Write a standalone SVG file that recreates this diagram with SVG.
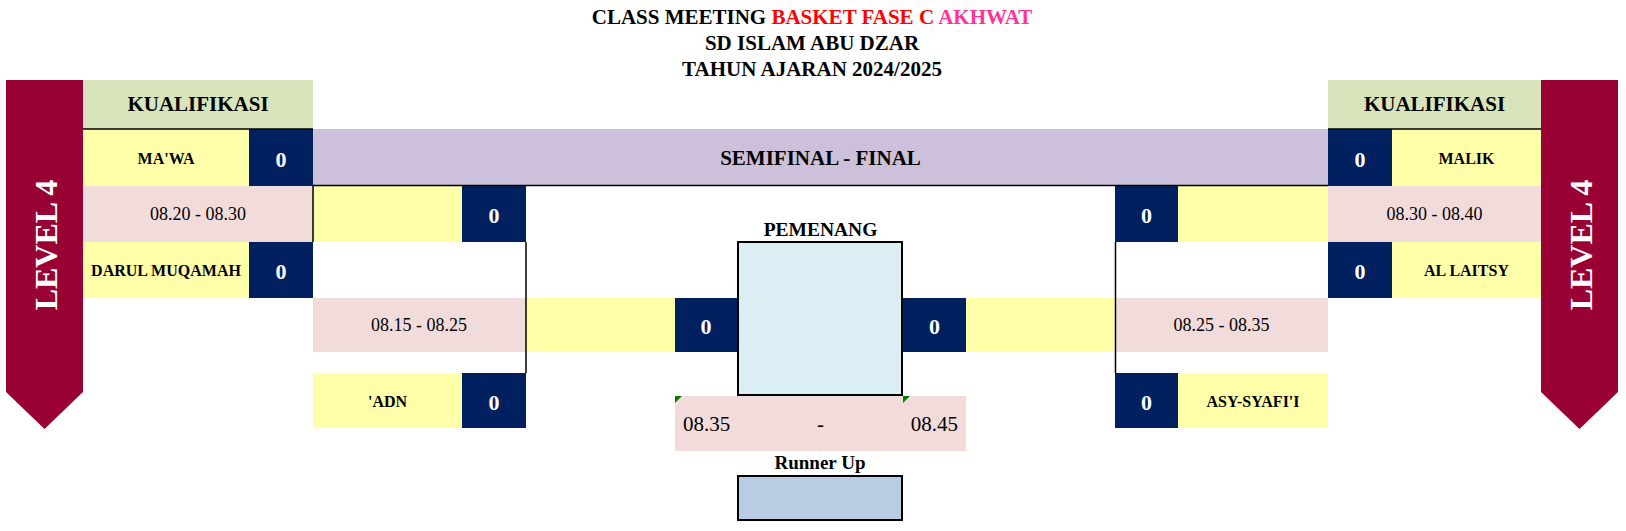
<svg xmlns="http://www.w3.org/2000/svg" width="1626" height="531" viewBox="0 0 1626 531">
<style>
text{font-family:"Liberation Serif","Times New Roman",serif;}
.t{font-size:21px;font-weight:bold;text-anchor:middle;fill:#000;}
.nm{font-size:16px;font-weight:bold;text-anchor:middle;fill:#000;}
.sc{font-size:22px;font-weight:bold;text-anchor:middle;fill:#fff;}
.tm{font-size:18px;text-anchor:middle;fill:#000;}
.tm2{font-size:21px;fill:#000;}
.lv{font-size:32px;font-weight:bold;text-anchor:middle;fill:#fff;}
.y{fill:#FFFFAA;}
.n{fill:#002060;}
.p{fill:#F2DCDB;}
.g{fill:#D8E4BC;}
.ln{stroke:#000;stroke-width:1.5;fill:none;}
.bx{stroke:#000;stroke-width:2;}
</style>
<rect width="1626" height="531" fill="#fff"/>
<g id="title">
<text class="t" x="812" y="24">CLASS MEETING <tspan fill="#FF0000">BASKET FASE C</tspan><tspan fill="#FF3399"> AKHWAT</tspan></text>
<text class="t" x="812" y="50">SD ISLAM ABU DZAR</text>
<text class="t" x="812" y="76">TAHUN AJARAN 2024/2025</text>
</g>
<g id="banner-left">
<polygon points="6,80 83,80 83,392 44.5,429 6,392" fill="#990033"/>
<text class="lv" transform="translate(57,245) rotate(-90)">LEVEL 4</text>
</g>
<g id="banner-right">
<polygon points="1541,80 1618,80 1618,392 1579.5,429 1541,392" fill="#990033"/>
<text class="lv" transform="translate(1591.5,245) rotate(-90)">LEVEL 4</text>
</g>
<g id="header-left">
<rect class="g" x="83" y="80" width="230" height="49"/>
<text class="t" x="198" y="111">KUALIFIKASI</text>
</g>
<g id="header-right">
<rect class="g" x="1328" y="80" width="213" height="49"/>
<text class="t" x="1434.5" y="111">KUALIFIKASI</text>
</g>
<g id="semifinal-final">
<rect x="313" y="129" width="1015" height="57" fill="#CCC0DA"/>
<text class="t" x="820.5" y="165">SEMIFINAL - FINAL</text>
</g>
<g id="team-mawa">
<rect class="y" x="83" y="129" width="166" height="57"/>
<rect class="n" x="249" y="129" width="64" height="57"/>
<text class="nm" x="166" y="163.5">MA'WA</text>
<text class="sc" x="281" y="167">0</text>
</g>
<g id="time-left-1">
<rect class="p" x="83" y="186" width="230" height="56"/>
<text class="tm" x="198" y="220">08.20 - 08.30</text>
</g>
<g id="team-darul">
<rect class="y" x="83" y="242" width="166" height="56"/>
<rect class="n" x="249" y="242" width="64" height="56"/>
<text class="nm" x="166" y="276">DARUL MUQAMAH</text>
<text class="sc" x="281" y="279">0</text>
</g>
<g id="semi-left-1">
<rect class="y" x="313" y="186" width="149" height="56"/>
<rect class="n" x="462" y="186" width="64" height="56"/>
<text class="sc" x="494" y="223">0</text>
</g>
<g id="time-left-2">
<rect class="p" x="313" y="298" width="213" height="54"/>
<text class="tm" x="419" y="331">08.15 - 08.25</text>
</g>
<g id="team-adn">
<rect class="y" x="313" y="373" width="149" height="55"/>
<rect class="n" x="462" y="373" width="64" height="55"/>
<text class="nm" x="387.5" y="406.5">'ADN</text>
<text class="sc" x="494" y="409.5">0</text>
</g>
<g id="final-left">
<rect class="y" x="526" y="298" width="149" height="54"/>
<rect class="n" x="675" y="298" width="62" height="54"/>
<text class="sc" x="706" y="334">0</text>
</g>
<g id="pemenang">
<text class="t" x="820.5" y="235.5" style="font-size:19.5px">PEMENANG</text>
<rect class="bx" x="738" y="242" width="164" height="153" fill="#DAEEF3"/>
</g>
<g id="final-right">
<rect class="n" x="903" y="298" width="63" height="54"/>
<rect class="y" x="966" y="298" width="149" height="54"/>
<text class="sc" x="934.5" y="334">0</text>
</g>
<g id="time-final">
<rect class="p" x="675" y="396" width="291" height="55"/>
<polygon points="675,396 682,396 675,403" fill="#008000"/>
<polygon points="903,396 910,396 903,403" fill="#008000"/>
<text class="tm2" x="683" y="431">08.35</text>
<text class="tm2" x="820.5" y="431" text-anchor="middle">-</text>
<text class="tm2" x="958" y="431" text-anchor="end">08.45</text>
</g>
<g id="runner-up">
<text class="t" x="820" y="469" style="font-size:19px">Runner Up</text>
<rect class="bx" x="738" y="476" width="164" height="44" fill="#B8CCE4"/>
</g>
<g id="time-right-2">
<rect class="p" x="1115" y="298" width="213" height="54"/>
<text class="tm" x="1221.5" y="331">08.25 - 08.35</text>
</g>
<g id="semi-right-1">
<rect class="n" x="1115" y="186" width="63" height="56"/>
<rect class="y" x="1178" y="186" width="150" height="56"/>
<text class="sc" x="1146.5" y="223">0</text>
</g>
<g id="team-asy-syafii">
<rect class="n" x="1115" y="373" width="63" height="55"/>
<rect class="y" x="1178" y="373" width="150" height="55"/>
<text class="sc" x="1146.5" y="409.5">0</text>
<text class="nm" x="1253" y="406.5">ASY-SYAFI'I</text>
</g>
<g id="team-malik">
<rect class="n" x="1328" y="129" width="64" height="57"/>
<rect class="y" x="1392" y="129" width="149" height="57"/>
<text class="sc" x="1360" y="167">0</text>
<text class="nm" x="1466.5" y="163.5">MALIK</text>
</g>
<g id="time-right-1">
<rect class="p" x="1328" y="186" width="213" height="56"/>
<text class="tm" x="1434.5" y="220">08.30 - 08.40</text>
</g>
<g id="team-al-laitsy">
<rect class="n" x="1328" y="242" width="64" height="56"/>
<rect class="y" x="1392" y="242" width="149" height="56"/>
<text class="sc" x="1360" y="279">0</text>
<text class="nm" x="1466.5" y="276">AL LAITSY</text>
</g>
<g id="connectors">
<line class="ln" x1="83" y1="129" x2="313" y2="129"/>
<line class="ln" x1="1328" y1="129" x2="1541" y2="129"/>
<line class="ln" x1="313" y1="185.5" x2="1328" y2="185.5"/>
<line class="ln" x1="313" y1="186" x2="313" y2="242"/>
<line class="ln" x1="526" y1="242" x2="526" y2="373"/>
<line class="ln" x1="1115.5" y1="242" x2="1115.5" y2="373"/>
</g>
</svg>
